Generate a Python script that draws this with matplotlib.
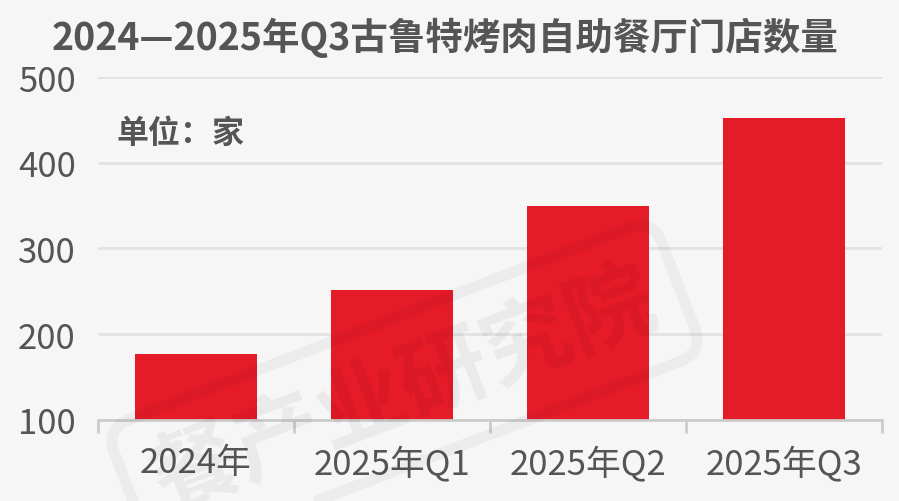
import matplotlib
matplotlib.use("Agg")
import matplotlib.pyplot as plt

plt.rcParams["font.family"] = ["Noto Sans CJK SC", "DejaVu Sans"]

categories = ["2024年", "2025年Q1", "2025年Q2", "2025年Q3"]
stores = [177, 252, 350, 452]
y_ticks = [100, 200, 300, 400, 500]

title = "2024—2025年Q3古鲁特烤肉自助餐厅门店数量"
unit_label = "单位：家"
watermark = "餐产业研究院"

BG = "#f6f6f6"
RED = "#e61b28"
TXT = "#555555"

fig = plt.figure(figsize=(8.99, 5.02), dpi=100, facecolor=BG)
ax = fig.add_axes([0.109, 0.1614, 0.872, 0.6832], facecolor=BG)

x = range(len(categories))
ax.bar(x, stores, width=0.62, bottom=0, color=RED, zorder=3)

ax.set_ylim(100, 500)
ax.set_xlim(-0.5, len(categories) - 0.5)
ax.set_yticks(y_ticks)
ax.set_yticklabels([str(v) for v in y_ticks])
ax.set_xticks(list(x))
ax.set_xticklabels(categories)
ax.set_xticks([i - 0.5 for i in range(len(categories) + 1)], minor=True)

ax.grid(axis="y", color="#e2e2e2", linewidth=2, zorder=0)
ax.tick_params(axis="y", length=0, pad=16, labelsize=25, labelcolor=TXT)
ax.tick_params(axis="x", which="major", length=0, pad=18, labelsize=25, labelcolor=TXT)
ax.tick_params(axis="x", which="minor", length=9, width=2, color="#cccccc")
for s in ["left", "right", "top"]:
    ax.spines[s].set_visible(False)
ax.spines["bottom"].set_color("#cccccc")
ax.spines["bottom"].set_linewidth(2)
ax.spines["bottom"].set_zorder(4)

fig.text(0.495, 1 - 38 / 502, title, ha="center", va="center",
         fontsize=27, fontweight="bold", color=TXT)
fig.text(0.130, 1 - 134 / 502, unit_label, ha="left", va="center",
         fontsize=23, fontweight="bold", color=TXT)

# faint watermark
fig.text(0.45, 0.22, watermark, ha="center", va="center", rotation=21,
         fontsize=64, fontweight="bold", color="#000000", alpha=0.05,
         zorder=10,
         bbox=dict(boxstyle="round,pad=0.3", facecolor="none",
                   edgecolor=(0, 0, 0, 0.04), linewidth=8))

fig.savefig("out.png", dpi=100, facecolor=BG)
